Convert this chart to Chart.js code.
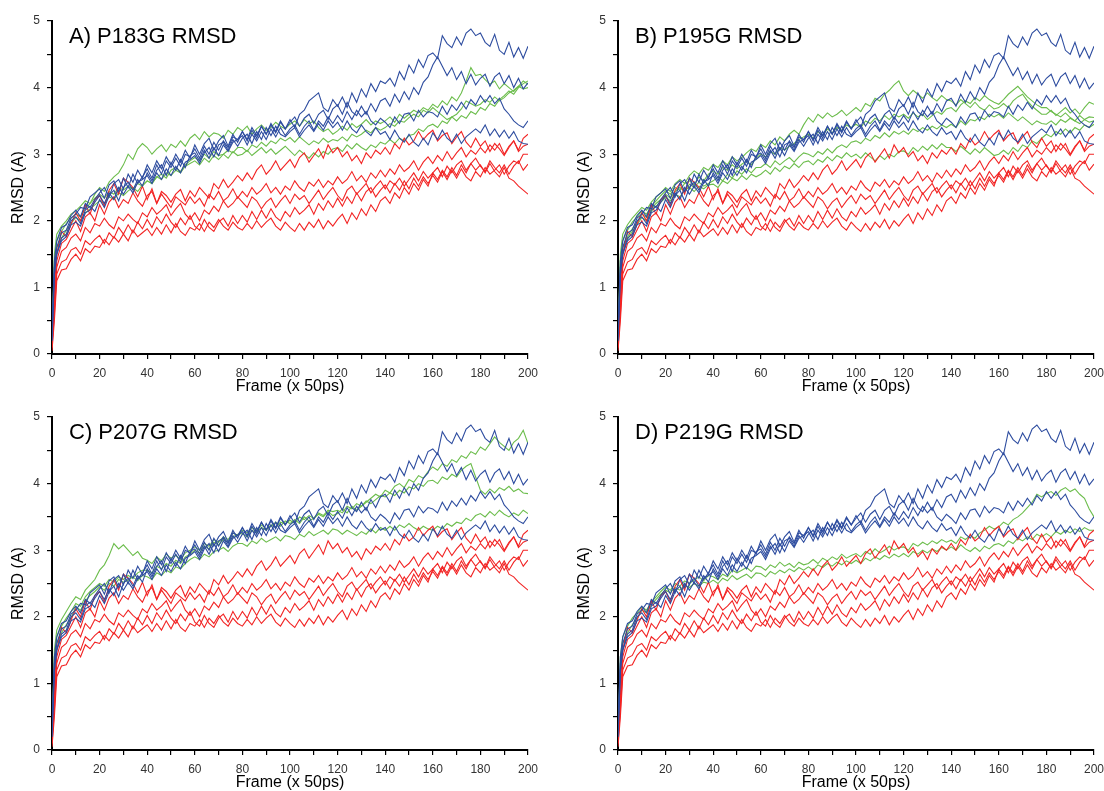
<!DOCTYPE html>
<html lang="en">
<head>
  <meta charset="UTF-8" />
  <title>RMSD panels</title>
  <script src="https://cdn.jsdelivr.net/npm/chart.js"></script>
  <style>
    body { margin: 0; background: #fff; width: 1104px; height: 791px; overflow: hidden; position: relative; }
    canvas { position: absolute; }
  </style>
</head>
<body>
  <canvas id="pA" width="552" height="396" style="left:0;top:0"></canvas>
  <canvas id="pB" width="552" height="396" style="left:566px;top:0"></canvas>
  <canvas id="pC" width="552" height="396" style="left:0;top:396px"></canvas>
  <canvas id="pD" width="552" height="396" style="left:566px;top:396px"></canvas>

  <script>
    // frame index of each sample (x 50ps)
    const frames = [0,1,2,4,6,8,10,12,14,16,18,
      20,22,24,26,28,30,32,34,36,38,
      40,42,44,46,48,50,52,54,56,58,
      60,62,64,66,68,70,72,74,76,78,
      80,82,84,86,88,90,92,94,96,98,
      100,102,104,106,108,110,112,114,116,118,
      120,122,124,126,128,130,132,134,136,138,
      140,142,144,146,148,150,152,154,156,158,
      160,162,164,166,168,170,172,174,176,178,
      180,182,184,186,188,190,192,194,196,198,
      200];

    const xTicks = [0,20,40,60,80,100,120,140,160,180,200];
    const yTicks = [0,1,2,3,4,5];
    const titles = ['A) P183G RMSD', 'B) P195G RMSD', 'C) P207G RMSD', 'D) P219G RMSD'];

    // red runs (same in every panel)
    const red1 = [0.2,1.0,1.5,1.84,1.76,1.95,2.12,2.0,2.24,2.1,2.32,
      2.38,2.22,2.46,2.56,2.4,2.64,2.58,2.5,2.36,2.52,
      2.32,2.48,2.26,2.44,2.38,2.28,2.4,2.47,2.3,2.45,
      2.36,2.5,2.42,2.34,2.56,2.48,2.62,2.5,2.58,2.68,
      2.6,2.72,2.62,2.76,2.84,2.7,2.78,2.9,2.76,2.84,
      2.92,2.8,2.95,3.02,2.88,2.98,3.08,2.94,3.14,3.02,
      3.1,2.96,3.04,2.9,2.98,2.86,3.02,2.94,3.06,3.0,
      3.1,3.0,3.16,3.08,3.24,3.14,3.2,3.34,3.22,3.3,
      3.36,3.2,3.28,3.32,3.16,3.26,3.34,3.18,3.1,3.24,
      3.12,3.2,3.04,3.16,3.08,2.98,3.1,3.2,3.06,3.24,
      3.3];
    const red2 = [0.1,0.8,1.4,1.66,1.72,1.86,2.0,1.84,2.06,2.12,2.0,
      2.24,2.1,2.28,2.36,2.2,2.32,2.26,2.42,2.3,2.22,
      2.38,2.44,2.26,2.4,2.3,2.2,2.36,2.3,2.24,2.36,
      2.26,2.34,2.22,2.4,2.32,2.44,2.3,2.36,2.48,2.34,
      2.44,2.36,2.5,2.4,2.46,2.56,2.42,2.5,2.4,2.52,
      2.46,2.6,2.5,2.44,2.58,2.52,2.62,2.5,2.6,2.54,
      2.66,2.56,2.62,2.74,2.6,2.68,2.58,2.72,2.64,2.76,
      2.66,2.78,2.7,2.84,2.74,2.8,2.9,2.76,2.88,2.96,
      2.86,2.98,2.9,3.04,2.92,3.02,3.1,2.96,3.06,3.0,
      3.1,3.02,3.14,3.06,3.16,3.0,3.12,3.2,3.04,3.12,
      3.15];
    const red3 = [0.15,0.7,1.3,1.54,1.6,1.74,1.8,1.7,1.9,1.82,1.96,
      1.92,2.04,1.94,1.88,2.06,2.0,2.1,2.02,1.96,2.12,
      2.06,2.2,2.1,2.16,2.24,2.08,2.18,2.26,2.1,2.02,
      2.12,2.0,2.16,2.1,2.22,2.14,2.3,2.2,2.26,2.36,
      2.28,2.2,2.36,2.3,2.18,2.28,2.34,2.2,2.3,2.38,
      2.26,2.4,2.32,2.38,2.26,2.36,2.46,2.32,2.42,2.5,
      2.38,2.3,2.46,2.52,2.4,2.48,2.56,2.42,2.52,2.6,
      2.48,2.6,2.54,2.64,2.52,2.62,2.72,2.6,2.74,2.64,
      2.72,2.8,2.66,2.82,2.72,2.84,2.9,2.76,2.86,2.94,
      2.82,2.74,2.9,2.8,2.72,2.84,2.7,2.82,2.9,2.76,
      2.85];
    const red4 = [0.1,0.6,1.2,1.38,1.42,1.56,1.6,1.5,1.7,1.64,1.72,
      1.78,1.66,1.82,1.74,1.9,1.8,1.94,1.82,1.98,1.88,
      2.02,1.9,2.06,1.96,2.1,1.98,1.9,2.04,1.94,2.08,
      1.92,1.86,2.02,1.9,1.84,1.98,2.04,1.92,2.08,1.96,
      2.08,1.98,2.14,2.02,2.16,2.04,2.18,2.06,2.0,2.14,
      2.06,2.2,2.1,2.16,2.24,2.1,2.26,2.16,2.3,2.2,
      2.34,2.22,2.36,2.26,2.42,2.3,2.44,2.5,2.36,2.46,
      2.54,2.42,2.56,2.46,2.6,2.48,2.64,2.52,2.66,2.56,
      2.68,2.58,2.74,2.62,2.76,2.64,2.78,2.66,2.6,2.74,
      2.66,2.8,2.7,2.76,2.84,2.7,2.82,2.9,2.86,3.0,
      3.0];
    const red5 = [0.05,0.5,1.1,1.26,1.28,1.42,1.5,1.4,1.58,1.52,1.62,
      1.6,1.72,1.64,1.76,1.68,1.8,1.7,1.86,1.76,1.82,
      1.88,1.78,1.9,1.8,1.94,1.82,1.96,1.84,1.78,1.9,
      1.86,1.96,1.84,1.98,1.9,2.02,1.92,1.86,1.98,1.9,
      1.86,1.96,1.88,2.0,1.9,1.98,2.04,1.92,1.86,1.98,
      1.9,1.84,1.96,1.86,1.98,1.9,2.02,1.88,2.0,1.92,
      2.02,2.1,1.96,2.12,2.02,2.18,2.08,2.24,2.14,2.3,
      2.36,2.26,2.42,2.34,2.5,2.4,2.56,2.46,2.62,2.52,
      2.72,2.62,2.76,2.66,2.8,2.68,2.84,2.72,2.86,2.76,
      2.84,2.72,2.86,2.74,2.66,2.8,2.64,2.6,2.52,2.46,
      2.4];

    // blue runs (same in every panel)
    const blue1 = [0.3,1.4,1.7,1.9,1.94,2.08,2.16,2.06,2.26,2.2,2.32,
      2.42,2.5,2.36,2.56,2.62,2.48,2.7,2.58,2.76,2.64,
      2.84,2.72,2.9,2.78,2.96,2.84,3.0,2.88,3.06,2.94,
      3.14,3.0,3.16,3.24,3.06,3.2,3.28,3.12,3.3,3.18,
      3.34,3.22,3.4,3.28,3.42,3.3,3.44,3.32,3.48,3.38,
      3.52,3.4,3.6,3.66,3.8,3.86,3.92,3.7,3.64,3.82,
      3.72,3.86,3.7,3.92,3.78,3.98,3.86,4.06,3.94,4.1,
      4.06,4.14,4.02,4.24,4.12,4.34,4.22,4.42,4.3,4.48,
      4.52,4.44,4.78,4.66,4.6,4.76,4.64,4.82,4.88,4.78,
      4.82,4.68,4.62,4.8,4.56,4.5,4.68,4.46,4.6,4.44,
      4.62];
    const blue2 = [0.3,1.3,1.6,1.82,1.86,2.04,2.1,2.2,2.18,2.36,2.42,
      2.48,2.34,2.54,2.6,2.44,2.64,2.5,2.7,2.56,2.66,
      2.78,2.64,2.84,2.7,2.9,2.8,2.94,2.82,3.0,2.96,
      3.08,2.94,3.12,3.0,3.18,3.06,3.2,3.1,3.26,3.22,
      3.34,3.2,3.36,3.24,3.42,3.3,3.46,3.34,3.5,3.38,
      3.48,3.56,3.42,3.54,3.6,3.46,3.6,3.66,3.52,3.68,
      3.74,3.6,3.78,3.64,3.58,3.72,3.6,3.76,3.64,3.8,
      3.84,3.72,3.9,3.78,3.94,3.82,4.0,3.9,4.08,4.16,
      4.34,4.46,4.32,4.18,4.3,4.12,4.24,4.06,4.2,4.04,
      4.14,4.2,4.02,4.16,4.22,4.06,4.18,4.0,4.14,3.98,
      4.07];
    const blue3 = [0.2,1.2,1.5,1.74,1.8,2.0,2.06,1.96,2.16,2.22,2.14,
      2.32,2.2,2.38,2.46,2.3,2.5,2.58,2.46,2.62,2.52,
      2.72,2.6,2.76,2.84,2.68,2.88,2.76,2.92,2.8,2.98,
      3.02,2.9,3.06,2.94,3.1,2.98,3.14,3.04,3.18,3.22,
      3.28,3.14,3.3,3.2,3.34,3.22,3.38,3.26,3.4,3.28,
      3.38,3.44,3.3,3.42,3.5,3.36,3.5,3.42,3.56,3.46,
      3.58,3.48,3.64,3.52,3.66,3.56,3.64,3.5,3.44,3.54,
      3.48,3.4,3.56,3.46,3.6,3.62,3.5,3.66,3.56,3.64,
      3.62,3.56,3.72,3.6,3.74,3.66,3.78,3.68,3.82,3.74,
      3.88,3.78,3.88,3.76,3.84,3.68,3.6,3.5,3.44,3.4,
      3.5];
    const blue4 = [0.2,1.2,1.5,1.7,1.76,1.94,1.98,1.92,2.12,2.16,2.28,
      2.38,2.26,2.42,2.32,2.5,2.4,2.52,2.42,2.58,2.62,
      2.68,2.56,2.72,2.62,2.78,2.68,2.82,2.72,2.88,2.92,
      2.98,2.86,3.02,3.1,2.96,3.14,3.18,3.06,3.22,3.12,
      3.24,3.3,3.16,3.34,3.22,3.4,3.28,3.42,3.3,3.26,
      3.34,3.4,3.26,3.36,3.44,3.34,3.46,3.36,3.5,3.4,
      3.48,3.36,3.5,3.38,3.32,3.44,3.34,3.28,3.4,3.3,
      3.34,3.22,3.36,3.24,3.18,3.3,3.18,3.12,3.24,3.14,
      3.32,3.22,3.36,3.24,3.18,3.3,3.16,3.26,3.32,3.38,
      3.32,3.44,3.28,3.38,3.26,3.36,3.24,3.34,3.2,3.16,
      3.15];

    // green runs, one set per mutant panel
    const greenA1 = [0.2,1.5,1.8,1.92,2.0,2.1,2.15,2.22,2.3,2.26,2.4,
      2.5,2.44,2.58,2.66,2.72,2.84,3.0,2.92,3.08,3.16,
      3.1,3.0,3.08,3.14,3.04,3.15,3.1,3.2,3.12,3.24,
      3.3,3.22,3.34,3.26,3.32,3.3,3.24,3.36,3.3,3.4,
      3.35,3.42,3.3,3.38,3.44,3.36,3.4,3.48,3.42,3.38,
      3.45,3.5,3.42,3.52,3.46,3.5,3.4,3.34,3.38,3.3,
      3.35,3.42,3.36,3.46,3.4,3.45,3.52,3.44,3.5,3.46,
      3.5,3.56,3.48,3.6,3.54,3.6,3.66,3.62,3.7,3.66,
      3.75,3.7,3.8,3.74,3.86,3.8,3.92,4.1,4.3,4.18,
      4.2,4.12,4.05,4.1,3.98,4.06,4.0,3.94,4.02,4.1,
      4.05];
    const greenA2 = [0.2,1.4,1.7,1.84,1.96,2.04,2.1,2.06,2.18,2.26,2.34,
      2.4,2.34,2.44,2.4,2.5,2.46,2.52,2.48,2.56,2.52,
      2.6,2.56,2.66,2.62,2.72,2.68,2.76,2.72,2.82,2.86,
      2.9,2.84,2.94,2.88,2.98,2.92,3.0,2.94,3.04,2.98,
      3.0,3.06,2.98,3.04,3.1,3.02,3.08,3.0,3.06,3.12,
      3.05,2.98,3.06,3.0,2.94,3.02,2.96,3.04,3.0,3.08,
      3.1,3.04,3.14,3.08,3.16,3.1,3.06,3.14,3.1,3.18,
      3.15,3.22,3.16,3.24,3.2,3.28,3.3,3.38,3.34,3.42,
      3.45,3.4,3.5,3.46,3.56,3.5,3.58,3.54,3.64,3.6,
      3.7,3.66,3.76,3.72,3.82,3.88,3.95,3.9,4.0,4.06,
      4.1];
    const greenA3 = [0.1,1.3,1.6,1.74,1.86,1.96,2.05,2.0,2.12,2.18,2.24,
      2.3,2.26,2.36,2.32,2.42,2.38,2.45,2.5,2.44,2.54,
      2.6,2.56,2.66,2.7,2.64,2.76,2.8,2.74,2.84,2.9,
      2.95,2.9,3.0,2.94,3.04,2.98,3.0,3.06,3.02,3.1,
      3.1,3.04,3.14,3.1,3.18,3.12,3.2,3.16,3.24,3.2,
      3.25,3.18,3.26,3.2,3.14,3.2,3.16,3.24,3.18,3.22,
      3.2,3.26,3.2,3.3,3.26,3.3,3.36,3.32,3.4,3.36,
      3.4,3.46,3.42,3.5,3.48,3.55,3.6,3.56,3.66,3.62,
      3.7,3.64,3.58,3.52,3.56,3.6,3.68,3.8,3.76,3.72,
      3.75,3.82,3.78,3.86,3.8,3.85,3.92,3.96,4.02,3.98,
      4.0];

    const greenB1 = [0.2,1.5,1.8,1.94,2.04,2.12,2.2,2.16,2.28,2.36,2.42,
      2.5,2.44,2.56,2.62,2.56,2.68,2.75,2.7,2.8,2.76,
      2.85,2.8,2.9,2.84,2.96,2.9,2.95,3.02,3.08,3.04,
      3.15,3.1,3.2,3.14,3.26,3.2,3.3,3.36,3.3,3.44,
      3.55,3.48,3.6,3.54,3.62,3.56,3.6,3.66,3.58,3.64,
      3.7,3.64,3.76,3.72,3.84,3.8,3.9,3.96,4.04,4.1,
      3.95,3.88,3.96,3.9,3.84,3.92,3.85,3.8,3.88,3.82,
      3.8,3.74,3.82,3.76,3.7,3.78,3.7,3.66,3.74,3.68,
      3.7,3.76,3.7,3.8,3.86,3.9,3.8,3.72,3.66,3.6,
      3.6,3.66,3.58,3.64,3.7,3.62,3.68,3.6,3.7,3.78,
      3.75];
    const greenB2 = [0.2,1.4,1.7,1.86,1.98,2.06,2.15,2.1,2.22,2.3,2.38,
      2.45,2.4,2.5,2.46,2.56,2.6,2.54,2.66,2.6,2.7,
      2.75,2.7,2.8,2.76,2.84,2.78,2.85,2.9,2.84,2.94,
      3.0,2.96,3.04,3.0,3.1,3.06,3.12,3.16,3.22,3.26,
      3.3,3.24,3.34,3.28,3.38,3.32,3.4,3.36,3.44,3.4,
      3.45,3.4,3.5,3.46,3.54,3.5,3.58,3.52,3.6,3.56,
      3.6,3.54,3.62,3.56,3.6,3.52,3.58,3.64,3.6,3.68,
      3.7,3.64,3.74,3.8,3.76,3.85,3.8,3.88,3.82,3.78,
      3.75,3.82,3.9,3.96,4.02,3.94,3.86,3.8,3.74,3.7,
      3.7,3.64,3.6,3.56,3.62,3.55,3.5,3.58,3.52,3.56,
      3.55];
    const greenB3 = [0.1,1.3,1.6,1.76,1.88,1.98,2.1,2.05,2.18,2.26,2.32,
      2.4,2.34,2.44,2.5,2.44,2.55,2.5,2.58,2.52,2.56,
      2.6,2.66,2.6,2.7,2.64,2.75,2.7,2.78,2.72,2.8,
      2.8,2.86,2.8,2.9,2.84,2.9,2.95,2.88,2.96,3.02,
      3.0,2.96,3.04,3.0,3.08,3.02,3.1,3.14,3.1,3.18,
      3.2,3.16,3.24,3.2,3.28,3.24,3.32,3.26,3.34,3.3,
      3.35,3.3,3.38,3.34,3.4,3.36,3.42,3.38,3.44,3.4,
      3.45,3.4,3.5,3.44,3.52,3.5,3.56,3.52,3.6,3.56,
      3.6,3.54,3.62,3.56,3.5,3.56,3.5,3.44,3.5,3.46,
      3.45,3.5,3.44,3.52,3.48,3.54,3.5,3.46,3.52,3.48,
      3.5];
    const greenB4 = [0.1,1.3,1.6,1.72,1.84,1.94,2.05,2.0,2.14,2.22,2.28,
      2.35,2.3,2.4,2.36,2.46,2.5,2.44,2.52,2.48,2.54,
      2.55,2.5,2.6,2.56,2.64,2.6,2.68,2.62,2.7,2.66,
      2.7,2.76,2.7,2.8,2.74,2.82,2.78,2.86,2.8,2.88,
      2.9,2.84,2.92,2.88,2.96,2.9,2.98,2.94,3.02,2.96,
      3.0,2.94,3.02,2.96,2.9,2.98,2.92,3.0,2.96,3.04,
      3.05,3.0,3.1,3.04,3.12,3.06,3.14,3.08,3.16,3.1,
      3.1,3.04,3.12,3.06,3.0,3.08,3.02,3.1,3.04,2.98,
      3.0,3.06,3.0,3.1,3.04,3.14,3.1,3.2,3.16,3.24,
      3.3,3.26,3.34,3.3,3.38,3.32,3.4,3.36,3.44,3.4,
      3.45];

    const greenC1 = [0.2,1.5,1.8,1.96,2.08,2.2,2.3,2.26,2.4,2.48,2.56,
      2.7,2.78,2.92,3.1,3.02,3.08,3.0,2.92,2.98,2.88,
      2.85,2.8,2.9,2.84,2.94,2.88,2.92,2.86,2.96,3.0,
      3.05,3.0,3.1,3.06,3.16,3.12,3.2,3.16,3.26,3.22,
      3.3,3.26,3.34,3.3,3.38,3.32,3.36,3.42,3.36,3.44,
      3.4,3.46,3.4,3.5,3.44,3.48,3.54,3.5,3.58,3.52,
      3.55,3.62,3.56,3.66,3.6,3.66,3.72,3.78,3.84,3.8,
      3.9,3.86,3.96,4.0,3.94,4.06,4.02,4.12,4.08,4.18,
      4.25,4.2,4.3,4.26,4.36,4.32,4.42,4.38,4.48,4.44,
      4.55,4.5,4.6,4.7,4.62,4.56,4.5,4.62,4.68,4.8,
      4.6];
    const greenC2 = [0.2,1.4,1.7,1.86,1.98,2.08,2.2,2.16,2.3,2.38,2.44,
      2.5,2.46,2.56,2.52,2.6,2.56,2.62,2.58,2.66,2.7,
      2.7,2.66,2.76,2.72,2.8,2.76,2.85,2.8,2.9,2.94,
      3.0,2.96,3.06,3.02,3.12,3.08,3.16,3.12,3.2,3.24,
      3.25,3.2,3.3,3.26,3.34,3.3,3.38,3.34,3.42,3.4,
      3.45,3.4,3.5,3.46,3.52,3.48,3.56,3.52,3.6,3.58,
      3.6,3.56,3.66,3.62,3.7,3.66,3.74,3.7,3.76,3.82,
      3.8,3.86,3.82,3.9,3.86,3.95,3.92,4.0,3.96,4.04,
      4.05,4.0,4.1,4.06,4.14,4.1,4.2,4.26,4.3,4.1,
      3.9,3.84,3.92,3.86,3.94,3.9,3.96,3.88,3.92,3.86,
      3.85];
    const greenC3 = [0.1,1.3,1.6,1.76,1.88,1.98,2.15,2.1,2.24,2.32,2.38,
      2.45,2.4,2.5,2.46,2.56,2.52,2.55,2.6,2.54,2.62,
      2.6,2.56,2.66,2.62,2.7,2.66,2.75,2.72,2.8,2.86,
      2.9,2.86,2.94,2.9,2.98,3.0,3.04,2.98,3.06,3.1,
      3.1,3.06,3.14,3.1,3.18,3.12,3.16,3.2,3.14,3.22,
      3.2,3.16,3.24,3.2,3.28,3.22,3.26,3.3,3.24,3.32,
      3.3,3.24,3.3,3.26,3.22,3.28,3.24,3.32,3.26,3.34,
      3.3,3.36,3.3,3.38,3.34,3.4,3.34,3.3,3.36,3.32,
      3.3,3.36,3.32,3.4,3.36,3.42,3.4,3.48,3.44,3.52,
      3.55,3.5,3.58,3.52,3.6,3.54,3.5,3.56,3.52,3.6,
      3.55];

    const greenD1 = [0.2,1.4,1.7,1.86,1.98,2.06,2.15,2.1,2.22,2.3,2.38,
      2.45,2.4,2.5,2.46,2.54,2.5,2.55,2.6,2.54,2.62,
      2.6,2.56,2.64,2.6,2.7,2.66,2.7,2.74,2.68,2.76,
      2.75,2.7,2.78,2.74,2.82,2.76,2.8,2.74,2.82,2.78,
      2.8,2.86,2.8,2.88,2.84,2.9,2.86,2.94,2.88,2.92,
      2.95,2.9,2.98,2.94,3.02,2.96,3.0,3.06,3.0,3.04,
      3.05,3.0,3.1,3.06,3.12,3.08,3.14,3.1,3.16,3.12,
      3.15,3.1,3.2,3.16,3.22,3.18,3.26,3.3,3.36,3.32,
      3.35,3.42,3.38,3.46,3.5,3.56,3.64,3.72,3.84,3.8,
      3.85,3.88,3.82,3.9,3.94,3.88,3.92,3.84,3.78,3.62,
      3.5];
    const greenD2 = [0.1,1.3,1.6,1.76,1.88,1.98,2.1,2.06,2.18,2.26,2.34,
      2.4,2.36,2.44,2.4,2.48,2.44,2.5,2.46,2.52,2.5,
      2.55,2.5,2.58,2.54,2.62,2.56,2.6,2.64,2.58,2.66,
      2.65,2.6,2.68,2.64,2.7,2.66,2.72,2.68,2.74,2.7,
      2.75,2.7,2.78,2.74,2.8,2.76,2.82,2.78,2.84,2.8,
      2.85,2.8,2.88,2.84,2.9,2.86,2.92,2.88,2.94,2.9,
      2.95,2.9,2.98,2.94,3.0,2.96,3.02,2.98,3.04,3.0,
      3.05,3.0,3.08,3.02,2.98,3.04,2.98,3.06,3.02,3.08,
      3.1,3.06,3.14,3.1,3.18,3.14,3.2,3.16,3.24,3.2,
      3.25,3.2,3.28,3.24,3.3,3.26,3.32,3.28,3.34,3.3,
      3.3];

    const reds = [red1, red2, red3, red4, red5];
    const blues = [blue1, blue2, blue3, blue4];
    const greens = [
      [greenA1, greenA2, greenA3],
      [greenB1, greenB2, greenB3, greenB4],
      [greenC1, greenC2, greenC3],
      [greenD1, greenD2]
    ];

    const RED = '#f22424', BLUE = '#2d4c9f', GREEN = '#6cbd4c';
    const FONT = 'Arial, "Liberation Sans", sans-serif';

    function pts(vals) {
      return vals.map((v, i) => ({ x: frames[i], y: v }));
    }

    function run(vals, color) {
      return { data: pts(vals), borderColor: color, borderWidth: 1.1, pointRadius: 0, tension: 0, fill: false };
    }

    const panelTitle = {
      id: 'panelTitle',
      afterDraw(chart) {
        const c = chart.ctx;
        c.save();
        c.font = '22px ' + FONT;
        c.fillStyle = '#000';
        c.textBaseline = 'alphabetic';
        c.fillText(chart.options.plugins.panelTitle.text, chart.chartArea.left + 17, 43);
        c.restore();
      }
    };

    function makePanel(id, idx) {
      const datasets = [];
      blues.forEach(b => datasets.push(run(b, BLUE)));
      reds.forEach(r => datasets.push(run(r, RED)));
      greens[idx].forEach(g => datasets.push(run(g, GREEN)));

      new Chart(document.getElementById(id), {
        type: 'line',
        data: { datasets },
        plugins: [panelTitle],
        options: {
          responsive: false,
          animation: false,
          devicePixelRatio: 1,
          layout: { padding: { left: 0, top: 21, right: 24, bottom: 0 } },
          plugins: { legend: { display: false }, tooltip: { enabled: false }, panelTitle: { text: titles[idx] } },
          scales: {
            x: {
              type: 'linear', min: 0, max: 200,
              afterFit: s => { s.height = 42; },
              border: { color: '#000', width: 2 },
              grid: { drawOnChartArea: false, color: '#000', lineWidth: 1.2, tickLength: 5 },
              ticks: {
                stepSize: 10, autoSkip: false, maxRotation: 0, padding: 7, color: '#333',
                font: { family: FONT, size: 12 },
                callback: v => xTicks.includes(v) ? String(v) : ''
              },
              title: { display: true, text: 'Frame (x 50ps)', color: '#000', font: { family: FONT, size: 16 }, padding: { top: 0, bottom: 0 } }
            },
            y: {
              min: 0, max: 5,
              afterFit: s => { s.width = 52; },
              border: { color: '#000', width: 2 },
              grid: { drawOnChartArea: false, color: '#000', lineWidth: 1.2, tickLength: 5 },
              ticks: {
                stepSize: 0.5, autoSkip: false, padding: 7, color: '#333',
                font: { family: FONT, size: 12 },
                callback: v => yTicks.includes(v) ? String(v) : ''
              },
              title: { display: true, text: 'RMSD (A)', color: '#000', font: { family: FONT, size: 16 }, padding: { top: 9, bottom: 0 } }
            }
          }
        }
      });
    }

    makePanel('pA', 0);
    makePanel('pB', 1);
    makePanel('pC', 2);
    makePanel('pD', 3);
  </script>
</body>
</html>
